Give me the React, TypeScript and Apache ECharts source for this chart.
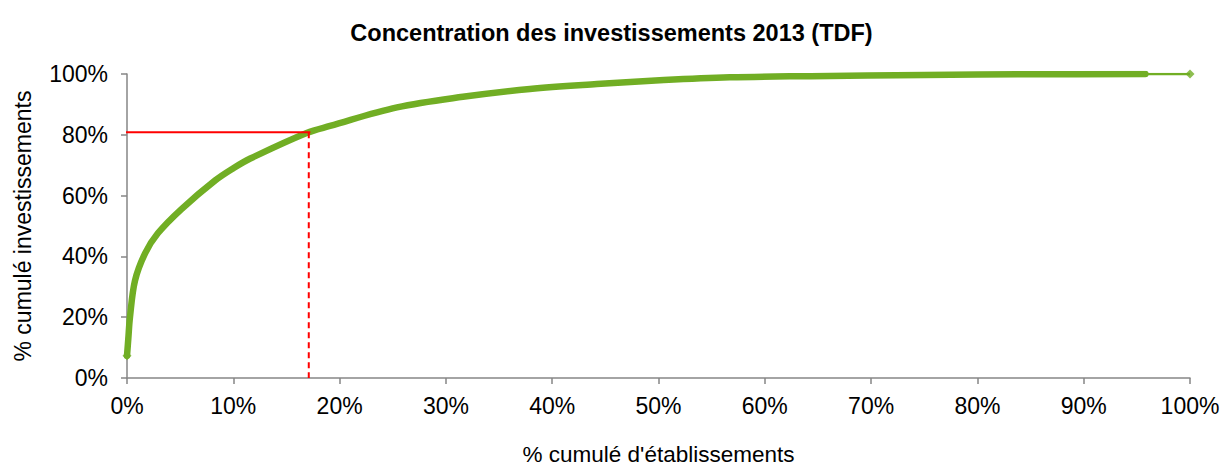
import React, { useEffect, useRef } from "react";
import * as echarts from "echarts";

const TITLE = "Concentration des investissements 2013 (TDF)";
const X_NAME = "% cumulé d'établissements";
const Y_NAME = "% cumulé investissements";

// cumulative share of establishments (x) vs cumulative share of investments (y)
const curveX = [0, 0.0012, 0.0028, 0.0075, 0.017, 0.029, 0.051, 0.083, 0.1, 0.116, 0.169, 0.191, 0.254, 0.316, 0.379, 0.442, 0.505, 0.567, 0.643, 0.75, 0.85, 0.958];
const curveY = [0.073, 0.128, 0.2, 0.32, 0.41, 0.476, 0.555, 0.65, 0.69, 0.722, 0.806, 0.829, 0.89, 0.925, 0.951, 0.967, 0.98, 0.989, 0.993, 0.997, 0.999, 1.0];

const tailX = [0.958, 1.0];
const tailY = [1.0, 1.0];

const refX = 0.1725;
const refY = 0.808;

export default function App() {
  const ref = useRef<HTMLDivElement>(null);
  useEffect(() => {
    if (!ref.current) return;
    const chart = echarts.init(ref.current, undefined, { renderer: "svg" });
    const font = "'Liberation Sans', Arial, sans-serif";
    const axisColor = "#868686";
    const green = "#71AE24";
    chart.setOption({
      animation: false,
      backgroundColor: "#ffffff",
      title: {
        text: TITLE,
        left: "center",
        top: 16,
        textStyle: { fontFamily: font, fontSize: 23.5, fontWeight: "bold", color: "#000" },
      },
      grid: { left: 127, right: 33, top: 74, bottom: 88, containLabel: false, outerBoundsMode: "none" },
      xAxis: {
        type: "value",
        min: 0,
        max: 1,
        interval: 0.1,
        name: X_NAME,
        nameLocation: "middle",
        nameGap: 65,
        nameTextStyle: { fontFamily: font, fontSize: 22.5, color: "#000", lineHeight: 22 },
        axisLine: { lineStyle: { color: axisColor, width: 1.5 } },
        axisTick: { show: true, length: 6, lineStyle: { color: axisColor, width: 1.5 } },
        axisLabel: {
          margin: 16,
          fontFamily: font,
          fontSize: 23,
          color: "#000",
          formatter: (v: number) => Math.round(v * 100) + "%",
        },
        splitLine: { show: false },
      },
      yAxis: {
        type: "value",
        min: 0,
        max: 1,
        interval: 0.2,
        name: Y_NAME,
        nameLocation: "middle",
        nameGap: 93,
        nameTextStyle: { fontFamily: font, fontSize: 23, color: "#000" },
        axisLine: { show: true, lineStyle: { color: axisColor, width: 1.5 } },
        axisTick: { show: true, length: 6, lineStyle: { color: axisColor, width: 1.5 } },
        axisLabel: {
          margin: 19,
          fontFamily: font,
          fontSize: 23,
          color: "#000",
          formatter: (v: number) => Math.round(v * 100) + "%",
        },
        splitLine: { show: false },
      },
      series: [
        {
          type: "line",
          data: curveX.map((x, i) => [x, curveY[i]]),
          smooth: 0.35,
          showSymbol: false,
          symbol: "none",
          lineStyle: { color: green, width: 6.5, cap: "round" },
          z: 3,
        },
        {
          type: "line",
          data: tailX.map((x, i) => [x, tailY[i]]),
          showSymbol: false,
          symbol: "none",
          lineStyle: { color: green, width: 2.5 },
          z: 3,
        },
        {
          type: "scatter",
          data: [
            [curveX[0], curveY[0]],
            [tailX[1], tailY[1]],
          ],
          symbol: "diamond",
          symbolSize: 9,
          itemStyle: { color: green },
          z: 4,
        },
        {
          type: "line",
          data: [
            [-0.003, refY],
            [refX, refY],
          ],
          clip: false,
          showSymbol: false,
          symbol: "none",
          lineStyle: { color: "#FF0000", width: 2 },
          z: 5,
        },
        {
          type: "line",
          data: [
            [refX - 0.0015, refY],
            [refX - 0.0015, 0],
          ],
          showSymbol: false,
          symbol: "none",
          lineStyle: { color: "#FF0000", width: 2, type: [6, 4] },
          z: 5,
        },
      ],
    });
    return () => chart.dispose();
  }, []);
  return <div ref={ref} style={{ width: 1223, height: 466, position: "absolute", left: 0, top: 0 }} />;
}
